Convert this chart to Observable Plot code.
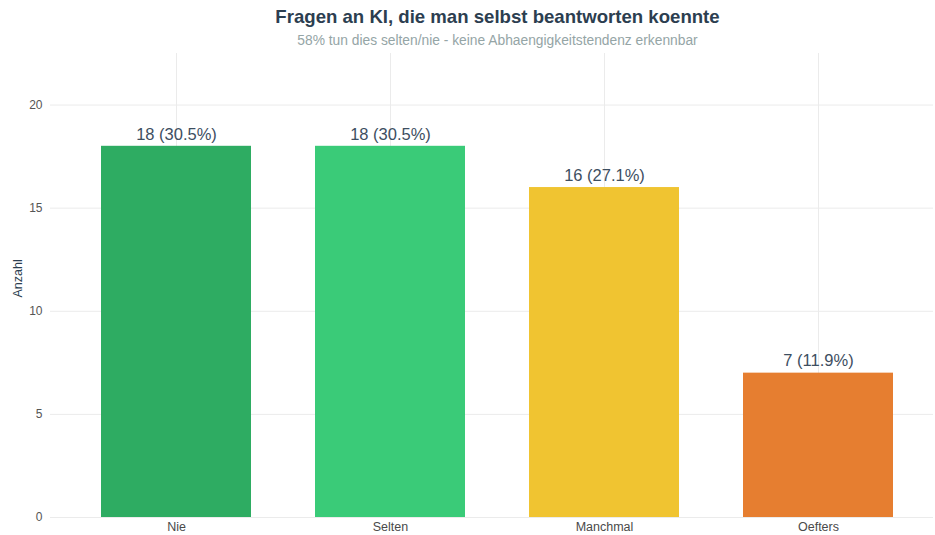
<!DOCTYPE html>
<html>
<head>
<meta charset="utf-8">
<script src="https://cdn.jsdelivr.net/npm/d3@7"></script>
<script src="https://cdn.jsdelivr.net/npm/@observablehq/plot@0.6"></script>
<style>
  body { margin: 0; background: #fff; font-family: "Liberation Sans", Arial, sans-serif; }
  #title { height: 30px; line-height: 34px; text-align: center; font-weight: bold; font-size: 18.6px; color: #2c3e50; padding-left: 60px; }
  #subtitle { height: 22px; line-height: 22px; text-align: center; font-size: 13.8px; color: #95a5a6; padding-left: 60px; }
  #chart svg { display: block; }
</style>
</head>
<body>
<div id="title">Fragen an KI, die man selbst beantworten koennte</div>
<div id="subtitle">58% tun dies selten/nie - keine Abhaengigkeitstendenz erkennbar</div>
<div id="chart"></div>
<script>
const categories = ["Nie", "Selten", "Manchmal", "Oefters"];
const counts = [18, 18, 16, 7];
const percents = [30.5, 30.5, 27.1, 11.9];
const colors = ["#2eac62", "#3acb78", "#f0c431", "#e67e30"];
const yTicks = [0, 5, 10, 15, 20];
const yTitle = "Anzahl";

const data = categories.map((c, i) => ({
  cat: c, n: counts[i], pct: percents[i], color: colors[i],
  label: `${counts[i]} (${percents[i].toFixed(1)}%)`
}));

const chart = Plot.plot({
  width: 935,
  height: 483,
  marginLeft: 50,
  marginRight: 2,
  marginTop: 1,
  marginBottom: 18,
  style: { fontFamily: "'Liberation Sans', Arial, sans-serif", fontSize: "12px", color: "#555" },
  x: { domain: categories, range: [69, 925], paddingInner: 0.3, paddingOuter: 0.15, label: null },
  y: { domain: [0, 22.5], label: null },
  marks: [
    Plot.ruleY(yTicks, { stroke: "#ebebeb", strokeWidth: 1 }),
    Plot.ruleX(categories, { x: d => d, stroke: "#ebebeb", strokeWidth: 1 }),
    Plot.barY(data, { x: "cat", y: "n", fill: "color" }),
    Plot.text(data, { x: "cat", y: "n", text: "label", dy: -12, fontSize: 16.5, fill: "#3d4e5f" }),
    Plot.axisY({ ticks: yTicks, tickSize: 0, tickPadding: 8, label: null, fill: "#555", fontSize: 12 }),
    Plot.axisX({ tickSize: 0, tickPadding: 5, label: null, fill: "#4a4a4a", fontSize: 12.5 }),
    Plot.text([yTitle], { text: d => d, frameAnchor: "left", rotate: -90, dx: -33, dy: 12, fontSize: 12.5, fill: "#2c3e50" })
  ]
});
document.getElementById("chart").appendChild(chart);
</script>
</body>
</html>
